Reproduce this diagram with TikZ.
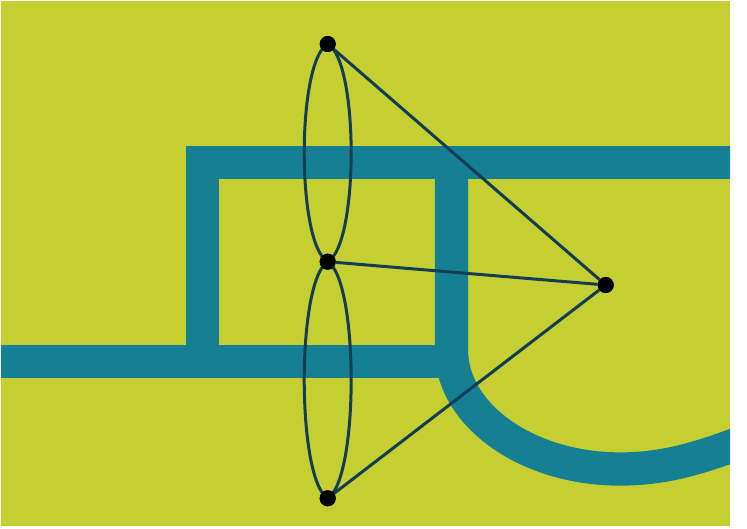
\documentclass[tikz,border=0pt]{standalone}
\definecolor{bggreen}{RGB}{197,207,50}
\definecolor{teal}{RGB}{21,128,147}
\definecolor{navy}{RGB}{19,61,85}
\begin{document}
\begin{tikzpicture}[x=1pt,y=-1pt,
  band/.style={draw=teal,line width=33.3pt,line cap=butt,line join=miter},
  wire/.style={draw=navy,line width=3pt},
  dot/.style={circle,fill=black,inner sep=0pt,minimum size=16pt}]
\useasboundingbox (0,0) rectangle (747,528);
\fill[white] (0,0) rectangle (747,528);
\fill[bggreen] (1,1) rectangle (730,526);
\begin{scope}
\clip (1,1) rectangle (730,526);
\draw[band] (740,162.3) -- (202.7,162.3) -- (202.7,361.5);
\draw[band] (-5,361.5) -- (451.5,361.5);
\draw[band] (451.5,146) -- (451.5,350)
  .. controls (451.5,415) and (527,469) .. (620,469)
  .. controls (665,469) and (700,458) .. (745,441);
\end{scope}
\node[dot] (t) at (327.7,44) {};
\node[dot] (m) at (327.7,261.7) {};
\node[dot] (b) at (327.7,498.3) {};
\node[dot] (r) at (605.7,285) {};
\draw[wire] (t.center) .. controls +(-31.3,17) and +(-31.3,-17) .. (m.center);
\draw[wire] (t.center) .. controls +(31.3,17) and +(31.3,-17) .. (m.center);
\draw[wire] (m.center) .. controls +(-31.3,19) and +(-31.3,-19) .. (b.center);
\draw[wire] (m.center) .. controls +(31.3,19) and +(31.3,-19) .. (b.center);
\draw[wire] (t) -- (r);
\draw[wire] (m) -- (r);
\draw[wire] (b) -- (r);
\node[dot] at (t) {};
\node[dot] at (m) {};
\node[dot] at (b) {};
\node[dot] at (r) {};
\end{tikzpicture}
\end{document}
